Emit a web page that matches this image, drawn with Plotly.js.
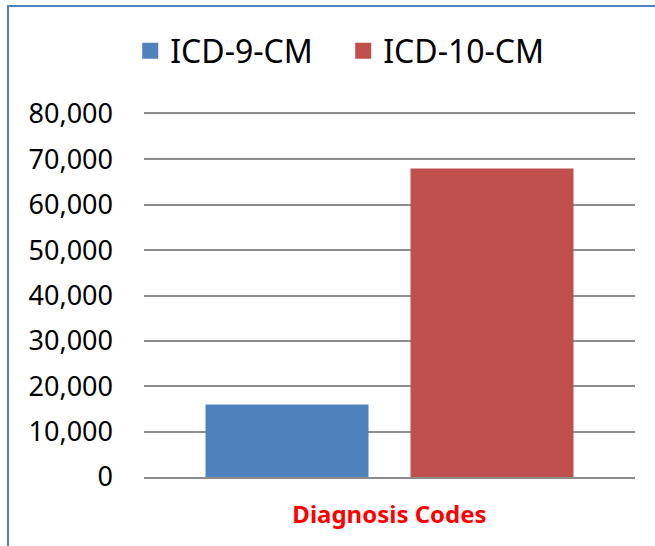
<!DOCTYPE html>
<html><head><meta charset="utf-8">
<script src="https://cdn.plot.ly/plotly-3.0.1.min.js"></script>
<style>
html,body{margin:0;padding:0;background:#fff;overflow:hidden;}
#frame{position:absolute;left:7px;top:5px;width:700px;height:600px;border-left:2px solid #4f81bd;border-top:2px solid #4f81bd;}
#chart{position:absolute;left:0;top:0;width:655px;height:546px;}
</style></head>
<body>
<div id="frame"></div>
<div id="chart"></div>
<script>
const categories = ["Diagnosis Codes"];
const seriesNames = ["ICD-9-CM", "ICD-10-CM"];
const seriesColors = ["#4f81bd", "#c0504d"];
const icd9Values = [16000];
const icd10Values = [68000];
const yTickVals = [0, 10000, 20000, 30000, 40000, 50000, 60000, 70000, 80000];
const yTickText = ["0", "10,000", "20,000", "30,000", "40,000", "50,000", "60,000", "70,000", "80,000"];

const traces = [
  {type: "bar", name: seriesNames[0], x: categories, y: icd9Values, marker: {color: seriesColors[0]}, showlegend: false},
  {type: "bar", name: seriesNames[1], x: categories, y: icd10Values, marker: {color: seriesColors[1]}, showlegend: false},
  // legend-only entries with large square swatches
  {type: "scatter", mode: "markers", name: seriesNames[0], x: [null], y: [null],
   marker: {symbol: "square", size: 21, color: seriesColors[0]}, showlegend: true, hoverinfo: "skip"},
  {type: "scatter", mode: "markers", name: seriesNames[1], x: [null], y: [null],
   marker: {symbol: "square", size: 21, color: seriesColors[1]}, showlegend: true, hoverinfo: "skip"}
];

const layout = {
  width: 655, height: 546,
  margin: {l: 144, r: 20, t: 114, b: 69},
  paper_bgcolor: "rgba(0,0,0,0)",
  plot_bgcolor: "rgba(0,0,0,0)",
  barmode: "group",
  bargap: 0.165,
  bargroupgap: 0.205,
  font: {family: "Noto Sans, Liberation Sans, sans-serif", color: "#000"},
  showlegend: true,
  legend: {
    orientation: "h", xref: "container", yref: "container",
    x: 0.524, xanchor: "center", y: 1 - 51/546, yanchor: "middle",
    font: {size: 32, color: "#000"}, itemwidth: 30, tracegroupgap: 0,
    entrywidth: 168, entrywidthmode: "pixels"
  },
  xaxis: {
    type: "category",
    showticklabels: false, showgrid: false, zeroline: false,
    showline: true, mirror: true, linecolor: "#8c8c8c", linewidth: 2,
    title: {text: "Diagnosis Codes", font: {size: 24, color: "#ff0000", family: "Noto Sans, sans-serif", weight: "bold"}, standoff: 28}
  },
  yaxis: {
    range: [0, 80000], tickvals: yTickVals, ticktext: yTickText,
    showgrid: true, gridcolor: "#8c8c8c", gridwidth: 2,
    zeroline: false, showline: false, ticks: "",
    ticklabelstandoff: 30,
    tickfont: {size: 27, color: "#000"}
  }
};

Plotly.newPlot("chart", traces, layout, {displayModeBar: false, staticPlot: true});
</script>
</body></html>
